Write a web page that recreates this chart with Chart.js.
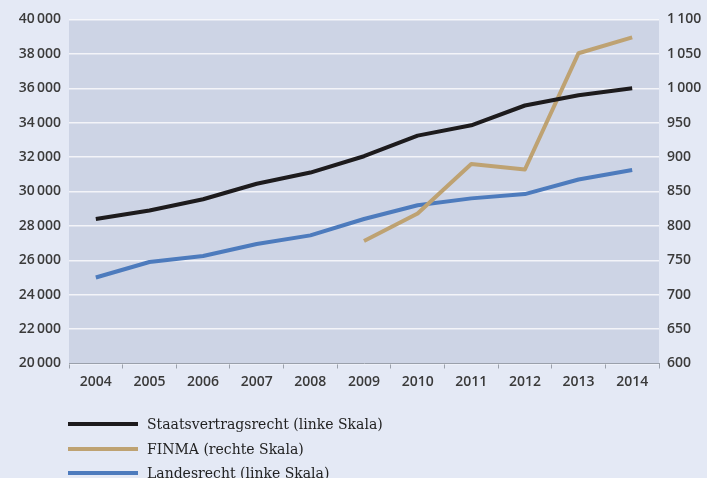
<!DOCTYPE html>
<html><head><meta charset="utf-8">
<script src="https://cdn.jsdelivr.net/npm/chart.js@4"></script>
<style>
html,body{margin:0;padding:0;background:#e4e9f5;}
#wrap{position:relative;width:707px;height:478px;}
#legend{position:absolute;left:68px;top:412px;font-family:"DejaVu Serif",serif;font-size:14px;color:#222;}
.row{display:flex;align-items:center;height:24.5px;}
.sw{width:70px;height:4px;margin-right:9px;}
</style></head>
<body>
<div id="wrap"><canvas id="c" width="707" height="478"></canvas>
<div id="legend"></div></div>
<script>
const years = ['2004','2005','2006','2007','2008','2009','2010','2011','2012','2013','2014'];
const staatsvertragsrecht = [28400, 28900, 29550, 30450, 31100, 32050, 33250, 33850, 35000, 35600, 36000];
const landesrecht = [25000, 25900, 26250, 26950, 27450, 28400, 29200, 29600, 29850, 30700, 31250];
const finma = [null, null, null, null, null, 778, 818, 890, 882, 1051, 1074];
const seriesNames = ['Staatsvertragsrecht (linke Skala)', 'FINMA (rechte Skala)', 'Landesrecht (linke Skala)'];
const seriesColors = ['#1d1b1d', '#bea272', '#4d7bbd'];

const fmt = v => { const s = String(v); return s.length > 3 ? s.slice(0, s.length-3) + '\u2009' + s.slice(-3) : s; };

const plotBg = {
  id: 'plotBg',
  beforeDraw(chart) {
    const {ctx, chartArea: a} = chart;
    ctx.save(); ctx.fillStyle = '#cdd4e5';
    ctx.fillRect(a.left, a.top, a.right - a.left, a.bottom - a.top);
    ctx.restore();
  }
};

const tickFont = {family: 'Open Sans', size: 14, weight: '600'};

new Chart(document.getElementById('c'), {
  type: 'line',
  data: {
    labels: years,
    datasets: [
      {label: seriesNames[0], data: staatsvertragsrecht, borderColor: seriesColors[0], yAxisID: 'y'},
      {label: seriesNames[1], data: finma, borderColor: seriesColors[1], yAxisID: 'y1'},
      {label: seriesNames[2], data: landesrecht, borderColor: seriesColors[2], yAxisID: 'y'}
    ].map(d => Object.assign(d, {borderWidth: 4, pointRadius: 0, tension: 0, fill: false, spanGaps: false, borderCapStyle: 'butt', borderJoinStyle: 'round'}))
  },
  options: {
    responsive: false, animation: false,
    layout: {padding: {top: 19.5, bottom: 84.5, left: 0, right: 0}},
    plugins: {legend: {display: false}, tooltip: {enabled: false}},
    scales: {
      x: {
        offset: true,
        grid: {offset: true, drawOnChartArea: false, drawTicks: true, tickLength: 5, color: '#9aa0ab'},
        border: {display: true, color: '#9aa0ab', width: 1},
        ticks: {color: '#3a3a3a', font: tickFont, padding: 5},
        afterFit(s) { s.height = 30; }
      },
      y: {
        position: 'left', min: 20000, max: 40000,
        ticks: {stepSize: 2000, color: '#3a3a3a', font: tickFont, padding: 8, callback: v => fmt(v)},
        grid: {color: 'rgba(255,255,255,0.75)', lineWidth: 1.5, drawTicks: false},
        border: {display: false},
        afterFit(s) { s.width = 69; }
      },
      y1: {
        position: 'right', min: 600, max: 1100,
        ticks: {stepSize: 50, color: '#3a3a3a', font: tickFont, padding: 8, callback: v => fmt(v)},
        grid: {drawOnChartArea: false, drawTicks: false},
        border: {display: false},
        afterFit(s) { s.width = 48; }
      }
    }
  },
  plugins: [plotBg]
});

const lg = document.getElementById('legend');
seriesNames.forEach((n, i) => {
  const r = document.createElement('div'); r.className = 'row';
  const sw = document.createElement('div'); sw.className = 'sw'; sw.style.background = seriesColors[i];
  const t = document.createElement('span'); t.textContent = n;
  r.appendChild(sw); r.appendChild(t); lg.appendChild(r);
});
</script>
</body></html>
